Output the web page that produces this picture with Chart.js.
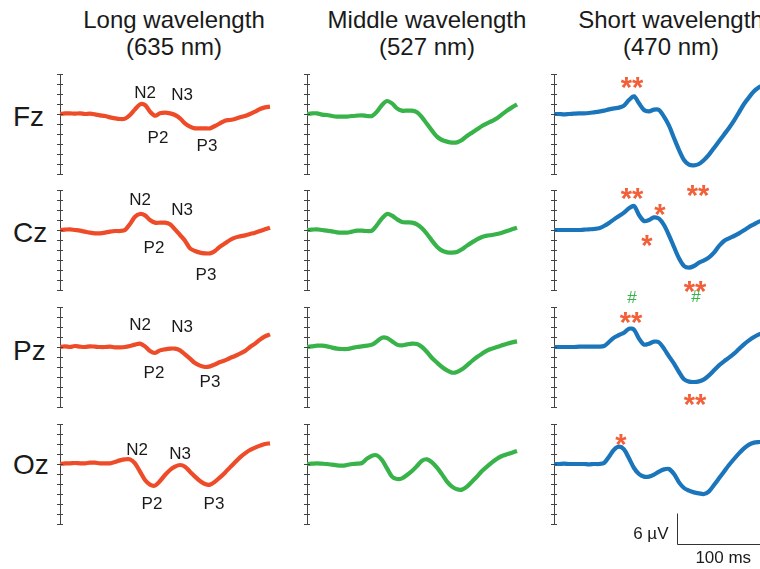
<!DOCTYPE html>
<html>
<head>
<meta charset="utf-8">
<script src="https://cdn.jsdelivr.net/npm/chart.js@4.4.1/dist/chart.umd.min.js"></script>
<style>
  body { margin: 0; width: 760px; height: 569px; overflow: hidden; background: #fff; position: relative;
         font-family: "Liberation Sans", Arial, sans-serif; color: #1a1a1a; }
  .title { position: absolute; top: 6px; width: 260px; text-align: center; font-size: 24px; line-height: 27px; }
  .row { position: absolute; left: 13px; font-size: 28px; line-height: 28px; }
  canvas { position: absolute; }
</style>
</head>
<body>
<script>
// time axis (ms) shared by every trace
const timeMs = [-50,-45,-40,-35,-30,-25,-20,-15,-10,-5,0,5,10,15,20,25,30,35,40,45,50,55,60,65,70,75,80,85,90,95,100,105,110,115,120,125,130,135,140,145,150,155,160];

const electrodes = ['Fz', 'Cz', 'Pz', 'Oz'];
const conditions = ['Long wavelength', 'Middle wavelength', 'Short wavelength'];
const wavelengths = ['(635 nm)', '(527 nm)', '(470 nm)'];

// amplitudes in µV (negative is drawn upward)
const longFz = [0,-0.13,-0.13,-0.07,-0.13,0,-0.07,0.07,0.27,0.4,0.67,0.87,1.0,0.93,0.2,-0.93,-1.93,-1.8,-0.47,0.33,-0.13,-0.27,-0.13,0.2,0.87,1.87,2.53,2.87,2.87,2.87,2.87,2.4,1.87,1.33,1.2,1.0,0.67,0.4,0,-0.47,-1.0,-1.33,-1.47];
const longCz = [0,-0.07,-0.13,0,0.13,0.33,0.53,0.67,0.67,0.53,0.33,0.2,0.2,0,-1.2,-2.67,-3.2,-2.93,-2.0,-1.47,-1.47,-1.47,-1.13,-0.13,1.0,2.13,3.67,4.2,4.53,4.67,4.67,4.2,3.33,2.67,2.0,1.53,1.27,1.07,0.8,0.53,0.2,-0.13,-0.47];
const longPz = [0,-0.13,0,-0.2,-0.07,0,-0.13,-0.07,0,0,-0.07,0.07,0.07,0,-0.2,-0.47,-0.67,-0.13,0.8,1.2,0.67,0.47,0.33,0.33,0.67,1.47,2.33,3.2,3.73,4.0,3.87,3.47,3.0,2.67,2.2,1.8,1.33,0.8,0,-0.67,-1.47,-2.13,-2.53];
const longOz = [0,-0.13,-0.13,-0.2,-0.13,-0.13,-0.27,-0.27,-0.13,-0.13,-0.13,-0.4,-0.73,-0.93,-0.93,-0.13,1.53,3.2,4.13,4.33,3.4,2.2,1.2,0.53,0.2,0.53,1.53,2.53,3.4,4.0,4.13,3.53,2.67,1.73,0.67,-0.33,-1.33,-2.13,-2.8,-3.27,-3.67,-4.0,-4.13];

const midFz = [0,-0.13,-0.13,0.13,0.2,0.4,0.53,0.53,0.53,0.4,0.33,0.27,0.4,0.4,-0.47,-1.8,-2.6,-2.13,-1.13,-0.67,-0.67,-0.67,-0.33,0.67,2.0,3.33,4.53,5.2,5.53,5.73,5.67,5.2,4.4,3.73,3.07,2.4,1.87,1.4,0.87,0.07,-0.67,-1.33,-1.93];
const midCz = [0,-0.07,-0.13,0,0.13,0.27,0.47,0.53,0.53,0.33,0.13,0.13,0.2,0.13,-1.0,-2.33,-3.2,-2.87,-2.13,-1.6,-1.53,-1.47,-1.13,-0.33,0.8,2.13,3.33,4.13,4.47,4.53,4.4,3.87,3.13,2.47,1.87,1.4,1.13,1.0,0.8,0.53,0.2,-0.13,-0.47];
const midPz = [0,-0.13,-0.27,-0.27,-0.13,0.13,0.33,0.4,0.4,0.2,0,-0.13,-0.27,-0.47,-1.13,-1.87,-1.8,-1.13,-0.47,-0.33,-0.53,-0.67,-0.6,0,1.0,2.2,3.13,4.0,4.67,5.13,5.0,4.47,3.67,2.8,2.0,1.33,0.73,0.33,0,-0.33,-0.67,-0.93,-1.13];
const midOz = [0,-0.07,-0.13,-0.07,0,0.13,0.27,0.33,0.2,0,-0.07,-0.2,-1.07,-1.67,-1.73,-0.8,0.87,2.53,3.0,2.87,2.2,1.4,0.4,-0.67,-0.93,-0.33,0.73,2.07,3.53,4.53,5.07,5.13,4.53,3.53,2.53,1.4,0.53,-0.33,-1.07,-1.6,-1.93,-2.27,-2.6];

const shortFz = [0,0,0.07,0,-0.07,-0.13,-0.13,-0.2,-0.33,-0.47,-0.67,-0.93,-1.13,-1.27,-1.67,-2.8,-3.53,-2.13,-0.8,-0.53,-0.87,-0.8,0.53,2.33,4.8,7.2,9.2,10.13,10.27,10.0,9.2,8.13,6.8,5.47,4.13,2.8,1.33,-0.33,-2.0,-3.33,-4.53,-5.33,-5.87];
const shortCz = [0,0,0,0,0,0,-0.07,-0.13,-0.2,-0.33,-0.8,-1.4,-2.13,-2.8,-3.47,-4.33,-4.8,-3.0,-1.8,-2.0,-2.53,-2.27,-1.0,1.07,3.4,5.67,7.2,7.53,7.2,6.53,6.07,5.47,4.53,3.2,2.2,1.67,1.2,0.67,0.07,-0.6,-1.13,-1.67,-2.0];
const shortPz = [0,0,0,0,0,-0.07,-0.07,-0.07,-0.07,-0.07,-0.2,-1.0,-1.87,-2.4,-2.87,-3.67,-3.47,-1.67,-0.47,-0.67,-1.07,-0.93,0.33,1.87,3.33,5.0,6.47,6.93,7.0,6.87,6.47,5.67,4.67,3.67,2.87,2.13,1.33,0.4,-0.53,-1.33,-2.0,-2.53,-2.87];
const shortOz = [0,0,-0.07,0,0,0,0,0.07,0,0,-0.2,-1.47,-2.87,-3.47,-2.93,-1.13,0.8,2.0,2.53,2.53,2.13,1.53,1.07,1.0,2.0,3.67,4.8,5.33,5.67,5.87,6.0,5.47,4.2,2.87,1.53,0.2,-1.0,-2.13,-3.13,-3.87,-4.27,-4.4,-4.47];

const series = [
  [longFz, midFz, shortFz],
  [longCz, midCz, shortCz],
  [longPz, midPz, shortPz],
  [longOz, midOz, shortOz]
];

// component labels on the long-wavelength traces: [ms, µV] anchor
const peakLabels = ['N2', 'N3', 'P2', 'P3'];
const peakLabelAt = [
  [[35, -4.1], [72, -3.8], [48, 4.9], [97, 6.4]],
  [[30, -5.9], [72, -4.0], [44, 3.7], [96, 9.1]],
  [[30, -4.3], [72, -4.0], [44, 5.2], [100, 7.0]],
  [[27, -2.8], [70, -1.9], [42, 8.0], [104, 8.0]]
];
// significance marks on the short-wavelength traces: [row, text, ms, µV]
const sigMarks = [
  [0, '**', 28, -6.9], [0, '**', 94, 14.7],
  [1, '**', 28, -7.9], [1, '*', 56, -4.6], [1, '*', 43, 1.5], [1, '**', 91, 10.7], [1, '#', 92, 13.5],
  [2, '#', 28, -9.7], [2, '**', 27, -6.5], [2, '**', 91, 10.0],
  [3, '*', 17, -5.5]
];
const barMicroV = 6, barMs = 100;
const barAt = [73, 15.9]; // corner of the scale bar in the Oz / short panel

// layout
const colAxisX = [60, 307, 554];
const rowTop = [74, 190, 307, 424];
const plotW = 213, plotH = 100;
const padL = 14, padR = 14, padT = 36, padB = 70, axisW = 3;
const lineColors = ['#EE4B28', '#37B34A', '#1B75BB'];
const markColor = '#F2603A';
const axisColor = '#444';
const fam = '"Liberation Sans", Arial, sans-serif';

conditions.forEach((c, i) => {
  const d = document.createElement('div');
  d.className = 'title';
  d.style.left = ([174, 427, 671][i] - 130) + 'px';
  d.innerHTML = c + '<br>' + wavelengths[i];
  document.body.appendChild(d);
});
electrodes.forEach((e, i) => {
  const d = document.createElement('div');
  d.className = 'row';
  d.style.top = ([117, 233, 351, 465][i] - 14) + 'px';
  d.textContent = e;
  document.body.appendChild(d);
});

function panelDeco(row, col) {
  return {
    id: 'deco',
    afterDraw(chart) {
      const {ctx, chartArea, scales: {x, y}} = chart;
      ctx.save();
      ctx.strokeStyle = axisColor;
      ctx.lineWidth = 1;
      y.ticks.forEach((tk, i) => {
        const py = Math.round(y.getPixelForTick(i)) + 0.5;
        ctx.beginPath();
        ctx.moveTo(chartArea.left, py);
        ctx.lineTo(chartArea.left + 3, py);
        ctx.stroke();
      });
      ctx.textAlign = 'center';
      if (col === 0) {
        ctx.fillStyle = '#1a1a1a';
        ctx.font = '17px ' + fam;
        ctx.textBaseline = 'middle';
        peakLabelAt[row].forEach((p, i) => {
          ctx.fillText(peakLabels[i], x.getPixelForValue(p[0]), y.getPixelForValue(p[1]));
        });
      }
      if (col === 2) {
        sigMarks.filter(m => m[0] === row).forEach(m => {
          const px = x.getPixelForValue(m[2]), py = y.getPixelForValue(m[3]);
          if (m[1] === '#') {
            ctx.fillStyle = lineColors[1];
            ctx.font = '17px ' + fam;
            ctx.textBaseline = 'middle';
            ctx.fillText(m[1], px, py);
          } else {
            ctx.fillStyle = markColor;
            ctx.font = 'bold 29px ' + fam;
            ctx.textBaseline = 'alphabetic';
            ctx.fillText(m[1], px, py + 17);
          }
        });
        if (row === 3) {
          const x0 = Math.round(x.getPixelForValue(barAt[0])) + 0.5;
          const yb = Math.round(y.getPixelForValue(barAt[1])) + 0.5;
          const yt = y.getPixelForValue(barAt[1] - barMicroV);
          const x1 = x.getPixelForValue(barAt[0] + barMs);
          ctx.strokeStyle = '#333';
          ctx.beginPath();
          ctx.moveTo(x0, yt);
          ctx.lineTo(x0, yb);
          ctx.lineTo(x1, yb);
          ctx.stroke();
          ctx.fillStyle = '#1a1a1a';
          ctx.font = '17px ' + fam;
          ctx.textBaseline = 'middle';
          ctx.textAlign = 'right';
          ctx.fillText(barMicroV + ' µV', x0 - 9, (yt + yb) / 2 + 5);
          ctx.textAlign = 'center';
          ctx.fillText(barMs + ' ms', (x0 + x1) / 2 - 4, yb + 14);
        }
      }
      ctx.restore();
    }
  };
}

function makePanel(row, col) {
  const cv = document.createElement('canvas');
  const w = padL + axisW + plotW + padR, h = padT + plotH + padB;
  cv.width = w; cv.height = h;
  cv.style.width = w + 'px'; cv.style.height = h + 'px';
  cv.style.left = (colAxisX[col] - padL - axisW) + 'px';
  cv.style.top = (rowTop[row] - padT) + 'px';
  document.body.appendChild(cv);
  const values = series[row][col];
  new Chart(cv, {
    type: 'line',
    data: {
      datasets: [{
        data: timeMs.map((t, i) => ({x: t, y: values[i]})),
        borderColor: lineColors[col],
        borderWidth: 4.2,
        pointRadius: 0,
        tension: 0.3,
        fill: false
      }]
    },
    options: {
      responsive: false,
      animation: false,
      events: [],
      layout: {padding: {left: padL, right: padR, top: padT, bottom: padB}, autoPadding: false},
      plugins: {legend: {display: false}, tooltip: {enabled: false}},
      scales: {
        x: {type: 'linear', min: -50, max: 163, display: false},
        y: {
          reverse: true, min: -8, max: 12,
          ticks: {display: false, stepSize: 2},
          grid: {drawOnChartArea: false, tickLength: 3, color: axisColor},
          border: {color: axisColor}
        }
      }
    },
    plugins: [panelDeco(row, col)]
  });
}

for (let r = 0; r < 4; r++) {
  for (let c = 0; c < 3; c++) makePanel(r, c);
}
</script>
</body>
</html>
